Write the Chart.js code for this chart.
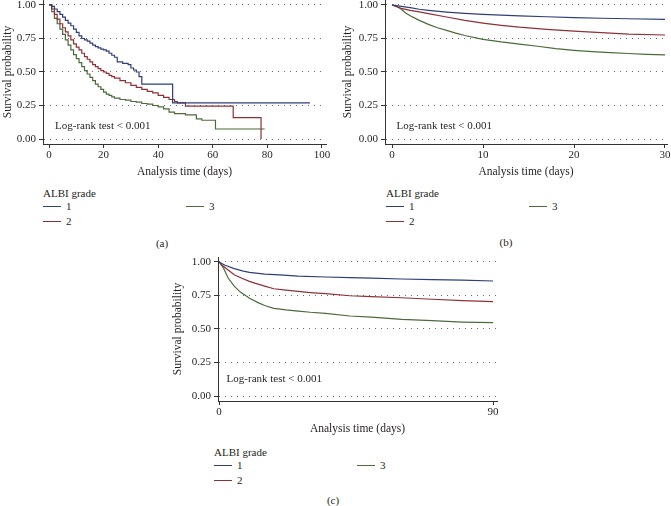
<!DOCTYPE html>
<html>
<head>
<meta charset="utf-8">
<script src="https://cdn.jsdelivr.net/npm/chart.js@4.4.0/dist/chart.umd.min.js"></script>
<style>
  body { margin: 0; background: #fff; }
  #page {
    position: relative; width: 671px; height: 506px; overflow: hidden;
    font-family: "Liberation Serif", serif; font-size: 11px; color: #231f20;
  }
  canvas { position: absolute; }
  .lbl { position: absolute; white-space: nowrap; line-height: 12px; }
  .key { position: absolute; width: 18px; height: 0; border-top: 1.3px solid; }
</style>
</head>
<body>
<div id="page">
  <canvas id="chartA" width="335" height="179" style="left:0;top:0"></canvas>
  <canvas id="chartB" width="331" height="179" style="left:340px;top:0"></canvas>
  <canvas id="chartC" width="335" height="186" style="left:170px;top:250px"></canvas>
</div>
<script>
const gradeLabels = ["1", "2", "3"];
const gradeColors = ["#2f3f7a", "#8f3036", "#4b6b3a"];
const survTicks = [0, 0.25, 0.5, 0.75, 1];

// (a) whole follow-up
const ticksA = [0, 20, 40, 60, 80, 100];
const timeA1 = [0, 1, 2, 3, 4, 5, 6, 7, 8, 9, 10, 11, 12, 13, 14, 15, 16, 17, 18, 19, 20, 21, 22, 23, 24, 25, 27, 29, 30, 31, 32, 33, 34, 45.3, 95.6];
const survA1 = [1, 0.99, 0.97, 0.95, 0.93, 0.91, 0.885, 0.865, 0.845, 0.82, 0.795, 0.77, 0.75, 0.74, 0.73, 0.715, 0.7, 0.69, 0.68, 0.67, 0.665, 0.655, 0.64, 0.625, 0.61, 0.575, 0.565, 0.555, 0.53, 0.515, 0.5, 0.465, 0.41, 0.27, 0.27];
const timeA2 = [0, 1, 2, 3, 4, 5, 6, 7, 8, 9, 10, 11, 12, 13, 14, 15, 16, 17, 18, 19, 20, 21, 22, 23, 24, 26, 28, 30, 32, 34, 36, 38, 40, 42, 44, 46, 47, 50, 67.5, 77.7];
const survA2 = [1, 0.97, 0.93, 0.895, 0.86, 0.83, 0.8, 0.77, 0.74, 0.71, 0.685, 0.665, 0.64, 0.615, 0.595, 0.575, 0.555, 0.54, 0.525, 0.51, 0.5, 0.49, 0.475, 0.465, 0.455, 0.435, 0.42, 0.4, 0.385, 0.37, 0.355, 0.345, 0.325, 0.31, 0.295, 0.28, 0.27, 0.245, 0.16, 0];
const timeA3 = [0, 1, 2, 3, 4, 5, 6, 7, 8, 9, 10, 11, 12, 13, 14, 15, 16, 17, 18, 19, 20, 21, 22, 23, 24, 26, 28, 30, 32, 34, 36, 38, 40, 42, 44, 46, 50, 54, 56, 61, 79];
const survA3 = [1, 0.95, 0.9, 0.86, 0.82, 0.78, 0.74, 0.7, 0.665, 0.63, 0.6, 0.57, 0.54, 0.51, 0.485, 0.46, 0.435, 0.41, 0.39, 0.37, 0.35, 0.335, 0.325, 0.315, 0.305, 0.295, 0.29, 0.28, 0.275, 0.265, 0.26, 0.25, 0.24, 0.225, 0.2, 0.19, 0.18, 0.15, 0.14, 0.075, 0.075];

// (b) 30 days
const ticksB = [0, 10, 20, 30];
const timeB1 = [0, 1, 2, 3, 4, 6, 8, 10, 12, 14, 17, 20, 23, 26, 30];
const survB1 = [1, 0.99, 0.98, 0.968, 0.96, 0.947, 0.937, 0.93, 0.924, 0.919, 0.912, 0.906, 0.901, 0.897, 0.893];
const timeB2 = [0, 1, 2, 3, 4, 6, 8, 10, 12, 14, 17, 20, 23, 26, 30];
const survB2 = [1, 0.975, 0.96, 0.948, 0.935, 0.91, 0.885, 0.865, 0.848, 0.834, 0.818, 0.805, 0.793, 0.783, 0.776];
const timeB3 = [0, 0.5, 1, 1.5, 2, 3, 4, 5, 6, 7, 8, 10, 12, 14, 16, 18, 20, 22, 24, 26, 28, 30];
const survB3 = [1, 0.99, 0.97, 0.94, 0.92, 0.885, 0.855, 0.83, 0.81, 0.79, 0.772, 0.744, 0.724, 0.708, 0.692, 0.675, 0.662, 0.652, 0.645, 0.638, 0.632, 0.627];

// (c) 90 days
const ticksC = [0, 90];
const timeC1 = [0, 2, 5, 8, 10, 15, 20, 26, 35, 43, 50, 60, 70, 80, 90];
const survC1 = [1, 0.975, 0.95, 0.932, 0.922, 0.91, 0.903, 0.895, 0.888, 0.883, 0.879, 0.873, 0.869, 0.864, 0.858];
const timeC2 = [0, 1, 3, 5, 7.5, 10, 12, 15, 18, 22, 26, 30, 35, 43, 50, 60, 70, 80, 90];
const survC2 = [1, 0.975, 0.94, 0.905, 0.878, 0.855, 0.84, 0.82, 0.8, 0.79, 0.78, 0.772, 0.764, 0.748, 0.742, 0.733, 0.722, 0.712, 0.704];
const timeC3 = [0, 1, 1.5, 3, 5, 7, 8.5, 10, 13, 15, 18, 22, 26, 30, 35, 43, 50, 60, 70, 80, 90];
const survC3 = [1, 0.97, 0.953, 0.88, 0.82, 0.775, 0.754, 0.73, 0.695, 0.675, 0.654, 0.642, 0.634, 0.625, 0.617, 0.597, 0.588, 0.572, 0.562, 0.552, 0.547];

const textColor = "#231f20";
const axisColor = "#333";
const serif = "'Liberation Serif', serif";

function toPoints(times, surv) {
  return times.map((t, i) => ({ x: t, y: surv[i] }));
}

function buildChart(id, opts) {
  const datasets = opts.series.map((s, i) => ({
    label: gradeLabels[i],
    data: toPoints(s[0], s[1]),
    borderColor: gradeColors[i],
    borderWidth: 1.2,
    pointRadius: 0,
    fill: false,
    tension: 0,
    // KM step: hold the value, then drop at the next event time
    stepped: opts.stepped ? "before" : false,
  }));

  const notePlugin = {
    id: "note",
    afterDraw(chart) {
      const ctx = chart.ctx;
      ctx.save();
      ctx.font = "11px " + serif;
      ctx.fillStyle = textColor;
      ctx.textBaseline = "middle";
      ctx.fillText("Log-rank test < 0.001",
        chart.scales.x.getPixelForValue(opts.noteX),
        chart.scales.y.getPixelForValue(opts.noteY));
      ctx.restore();
    },
  };

  return new Chart(document.getElementById(id), {
    type: "line",
    data: { datasets },
    options: {
      responsive: false,
      animation: false,
      layout: { padding: opts.padding },
      plugins: { legend: { display: false }, tooltip: { enabled: false } },
      scales: {
        x: {
          type: "linear",
          min: opts.xMin,
          max: opts.xMax,
          afterBuildTicks: (s) => { s.ticks = opts.xTicks.map((v) => ({ value: v })); },
          afterFit: (s) => { s.height = 35; s.paddingLeft = 0; s.paddingRight = 0; },
          ticks: { color: textColor, font: { family: serif, size: 11 }, padding: 1, maxRotation: 0, autoSkip: false,
                   callback: (v) => String(v) },
          grid: { drawOnChartArea: false, tickLength: 4, tickColor: axisColor, tickWidth: 1 },
          border: { color: axisColor, width: 1 },
          title: { display: true, text: "Analysis time (days)", color: textColor, padding: 0,
                   font: { family: serif, size: 11.5 } },
        },
        y: {
          min: -0.037,
          max: 1.037,
          afterBuildTicks: (s) => { s.ticks = survTicks.map((v) => ({ value: v })); },
          afterFit: (s) => { s.width = opts.yWidth; s.paddingTop = 0; s.paddingBottom = 0; },
          ticks: { color: textColor, font: { family: serif, size: 11 }, padding: 3,
                   callback: (v) => Number(v).toFixed(2) },
          grid: { color: "rgba(60,60,60,0.75)", lineWidth: 1, tickLength: 4, tickColor: axisColor,
                  tickWidth: 1, tickBorderDash: [] },
          border: { color: axisColor, width: 1, dash: [1, 5] },
          title: { display: true, text: "Survival probability", color: textColor, padding: { top: 1, bottom: 0 },
                   font: { family: serif, size: 11.5 } },
        },
      },
    },
    plugins: [notePlugin],
  });
}

buildChart("chartA", {
  series: [[timeA1, survA1], [timeA2, survA2], [timeA3, survA3]],
  stepped: true, xMin: -2.2, xMax: 101.5, xTicks: ticksA,
  yWidth: 43, padding: { top: 0, right: 9, bottom: 0, left: 0 },
  noteX: 2.2, noteY: 0.1,
});
buildChart("chartB", {
  series: [[timeB1, survB1], [timeB2, survB2], [timeB3, survB3]],
  stepped: false, xMin: -0.77, xMax: 30.22, xTicks: ticksB,
  yWidth: 45, padding: { top: 0, right: 4, bottom: 0, left: 0 },
  noteX: 0.5, noteY: 0.1,
});
buildChart("chartC", {
  series: [[timeC1, survC1], [timeC2, survC2], [timeC3, survC3]],
  stepped: false, xMin: -0.33, xMax: 91.3, xTicks: ticksC,
  yWidth: 48, padding: { top: 7, right: 8, bottom: 0, left: 0 },
  noteX: 2.5, noteY: 0.125,
});

// legends and panel letters
const page = document.getElementById("page");
function addText(text, x, y, center) {
  const d = document.createElement("div");
  d.className = "lbl";
  d.textContent = text;
  d.style.left = x + "px";
  d.style.top = (y - 6) + "px";
  if (center) d.style.transform = "translateX(-50%)";
  page.appendChild(d);
}
function addLegend(x0, y0) {
  addText("ALBI grade", x0, y0);
  const slots = [[0, 13], [0, 28], [143, 13]];
  gradeLabels.forEach((g, i) => {
    const [dx, dy] = slots[i];
    const k = document.createElement("div");
    k.className = "key";
    k.style.left = (x0 + dx) + "px";
    k.style.top = (y0 + dy) + "px";
    k.style.borderColor = gradeColors[i];
    page.appendChild(k);
    addText(g, x0 + dx + 23, y0 + dy);
  });
}
addLegend(43, 193);
addLegend(386, 193);
addLegend(214, 452);
addText("(a)", 162, 243, true);
addText("(b)", 506, 242, true);
addText("(c)", 333, 500, true);
</script>
</body>
</html>
